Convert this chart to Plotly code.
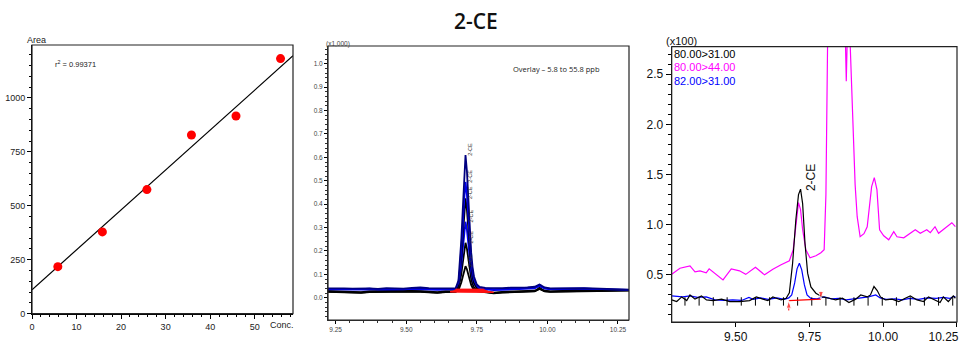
import plotly.graph_objects as go

W, H = 968, 343


def fx(p):
    return p / W


def fy(p):
    return 1 - p / H


# ---------------- Panel 1: calibration ----------------
conc = [5.8, 15.8, 25.8, 35.8, 45.8, 55.8]
area = [218, 379, 575, 828, 916, 1182]
fit_intercept = 111.0
fit_slope = 18.5
r2_text = "r<sup>2</sup> = 0.99371"
p1_xticks = [0, 10, 20, 30, 40, 50]
p1_yticks = [0, 250, 500, 750, 1000]

# ---------------- Panel 2: overlay ----------------
t2 = [9.222, 9.25, 9.28, 9.31, 9.34, 9.37, 9.40, 9.43, 9.46, 9.49, 9.52, 9.55, 9.58, 9.61, 9.64, 9.665,
      9.675, 9.685, 9.69, 9.695, 9.70, 9.705, 9.71, 9.715, 9.72, 9.725, 9.73, 9.735, 9.74, 9.75, 9.76,
      9.78, 9.81, 9.84, 9.87, 9.90, 9.93, 9.955, 9.965, 9.972, 9.98, 9.99, 10.01, 10.04, 10.07, 10.10,
      10.13, 10.16, 10.19, 10.22, 10.25, 10.289]
ov_1 = [0.040, 0.041, 0.040, 0.039, 0.041, 0.040, 0.038, 0.041, 0.040, 0.039, 0.042, 0.044, 0.041, 0.040, 0.039, 0.040,
        0.040, 0.074, 0.143, 0.245, 0.371, 0.507, 0.610, 0.542, 0.405, 0.291, 0.194, 0.131, 0.091, 0.057, 0.046,
        0.042, 0.040, 0.041, 0.043, 0.042, 0.044, 0.047, 0.053, 0.057, 0.051, 0.044, 0.040, 0.041, 0.039, 0.040,
        0.041, 0.040, 0.039, 0.038, 0.037, 0.035]
ov_2 = [0.037, 0.038, 0.036, 0.038, 0.037, 0.039, 0.036, 0.038, 0.037, 0.036, 0.038, 0.040, 0.037, 0.036, 0.038, 0.037,
        0.038, 0.065, 0.120, 0.203, 0.303, 0.413, 0.495, 0.440, 0.330, 0.239, 0.161, 0.111, 0.079, 0.052, 0.043,
        0.040, 0.037, 0.038, 0.040, 0.039, 0.041, 0.044, 0.050, 0.055, 0.049, 0.042, 0.038, 0.039, 0.037, 0.038,
        0.040, 0.038, 0.037, 0.036, 0.035, 0.034]
ov_3 = [0.028, 0.027, 0.028, 0.026, 0.024, 0.027, 0.028, 0.029, 0.027, 0.028, 0.029, 0.028, 0.026, 0.024, 0.027, 0.028,
        0.028, 0.052, 0.099, 0.171, 0.258, 0.354, 0.425, 0.377, 0.282, 0.203, 0.135, 0.092, 0.064, 0.040, 0.032,
        0.027, 0.022, 0.025, 0.027, 0.026, 0.028, 0.030, 0.036, 0.042, 0.036, 0.030, 0.027, 0.029, 0.030, 0.031,
        0.030, 0.031, 0.032, 0.031, 0.033, 0.033]
ov_4 = [0.034, 0.035, 0.034, 0.036, 0.035, 0.034, 0.036, 0.035, 0.033, 0.035, 0.036, 0.037, 0.035, 0.034, 0.035, 0.035,
        0.035, 0.052, 0.087, 0.139, 0.203, 0.273, 0.325, 0.290, 0.221, 0.163, 0.113, 0.081, 0.061, 0.044, 0.038,
        0.036, 0.033, 0.034, 0.036, 0.035, 0.037, 0.040, 0.046, 0.050, 0.045, 0.039, 0.036, 0.035, 0.034, 0.035,
        0.036, 0.035, 0.034, 0.034, 0.033, 0.033]
ov_5 = [0.026, 0.025, 0.026, 0.024, 0.022, 0.025, 0.026, 0.027, 0.025, 0.026, 0.027, 0.026, 0.024, 0.022, 0.025, 0.026,
        0.026, 0.039, 0.064, 0.101, 0.147, 0.197, 0.235, 0.210, 0.160, 0.118, 0.082, 0.059, 0.045, 0.032, 0.028,
        0.025, 0.020, 0.023, 0.025, 0.024, 0.026, 0.028, 0.034, 0.040, 0.034, 0.028, 0.026, 0.027, 0.028, 0.029,
        0.029, 0.030, 0.030, 0.030, 0.032, 0.032]
ov_6 = [0.025, 0.024, 0.025, 0.023, 0.021, 0.024, 0.025, 0.026, 0.024, 0.025, 0.026, 0.025, 0.023, 0.021, 0.024, 0.025,
        0.025, 0.032, 0.045, 0.065, 0.089, 0.115, 0.135, 0.122, 0.095, 0.073, 0.055, 0.043, 0.035, 0.028, 0.026,
        0.024, 0.019, 0.022, 0.024, 0.023, 0.025, 0.027, 0.033, 0.038, 0.033, 0.027, 0.025, 0.026, 0.027, 0.028,
        0.028, 0.029, 0.029, 0.029, 0.031, 0.031]
ov_series = [ov_6, ov_5, ov_4, ov_3, ov_2, ov_1]
ov_colors = ["#000000", "#000000", "#0000ee", "#000000", "#0000ee", "#000080"]
ov_label_t = 9.728
# red integration baselines (start time, start level, end time, end level)
int_t0 = [9.655, 9.660, 9.665, 9.670, 9.672, 9.675]
int_y0 = [0.026, 0.027, 0.028, 0.030, 0.033, 0.036]
int_t1 = [9.810, 9.800, 9.790, 9.785, 9.780, 9.775]
int_y1 = [0.024, 0.026, 0.028, 0.030, 0.033, 0.036]
p2_xticks = [9.25, 9.50, 9.75, 10.00, 10.25]
p2_yticks = [0.0, 0.1, 0.2, 0.3, 0.4, 0.5, 0.6, 0.7, 0.8, 0.9, 1.0]

# ---------------- Panel 3: MRM channels ----------------
t3_k = [9.283, 9.300, 9.317, 9.334, 9.345, 9.362, 9.384, 9.401, 9.424, 9.452, 9.480, 9.513, 9.547, 9.570, 9.592,
        9.609, 9.626, 9.654, 9.671, 9.682, 9.693, 9.704, 9.713, 9.720, 9.727, 9.735, 9.744, 9.755, 9.772, 9.794,
        9.817, 9.839, 9.862, 9.884, 9.907, 9.924, 9.946, 9.957, 9.969, 9.980, 9.991, 10.008, 10.030, 10.053,
        10.075, 10.092, 10.115, 10.137, 10.154, 10.171, 10.193, 10.204, 10.221, 10.238, 10.245]
y3_k = [0.25, 0.234, 0.28, 0.244, 0.30, 0.258, 0.29, 0.25, 0.244, 0.258, 0.234, 0.234, 0.244, 0.28, 0.258,
        0.244, 0.28, 0.25, 0.267, 0.32, 0.616, 1.05, 1.30, 1.354, 1.21, 0.815, 0.517, 0.38, 0.317, 0.28,
        0.267, 0.25, 0.267, 0.224, 0.258, 0.30, 0.28, 0.30, 0.384, 0.344, 0.28, 0.25, 0.258, 0.234,
        0.267, 0.29, 0.25, 0.234, 0.28, 0.258, 0.224, 0.28, 0.234, 0.29, 0.267]
t3_b = [9.283, 9.30, 9.32, 9.345, 9.37, 9.40, 9.43, 9.46, 9.49, 9.52, 9.545, 9.56, 9.585, 9.61, 9.64, 9.665,
        9.68, 9.69, 9.70, 9.708, 9.716, 9.724, 9.733, 9.742, 9.755, 9.775, 9.80, 9.825, 9.85, 9.875, 9.90,
        9.925, 9.95, 9.975, 9.99, 10.01, 10.04, 10.065, 10.09, 10.12, 10.15, 10.18, 10.205, 10.225, 10.24, 10.245]
y3_b = [0.29, 0.285, 0.28, 0.29, 0.275, 0.28, 0.25, 0.245, 0.25, 0.245, 0.275, 0.255, 0.27, 0.255, 0.27, 0.255,
        0.27, 0.30, 0.42, 0.56, 0.616, 0.55, 0.40, 0.30, 0.265, 0.26, 0.28, 0.26, 0.265, 0.25, 0.26,
        0.27, 0.28, 0.30, 0.27, 0.255, 0.26, 0.25, 0.265, 0.255, 0.27, 0.265, 0.275, 0.265, 0.285, 0.28]
t3_m = [9.283, 9.311, 9.345, 9.362, 9.379, 9.400, 9.410, 9.435, 9.457, 9.485, 9.513, 9.534, 9.567, 9.598, 9.626,
        9.654, 9.682, 9.695, 9.705, 9.713, 9.720, 9.727, 9.738, 9.752, 9.772, 9.789, 9.800, 9.806, 9.812, 9.830,
        9.860, 9.869, 9.875, 9.881, 9.884, 9.887, 9.899, 9.905, 9.912, 9.922, 9.935, 9.946, 9.961, 9.970, 9.979,
        9.988, 10.002, 10.019, 10.036, 10.047, 10.070, 10.109, 10.126, 10.148, 10.160, 10.176, 10.188, 10.210,
        10.233, 10.245]
y3_m = [0.507, 0.566, 0.59, 0.53, 0.54, 0.52, 0.56, 0.50, 0.45, 0.56, 0.54, 0.505, 0.576, 0.50, 0.556,
        0.60, 0.64, 0.75, 1.05, 1.22, 1.15, 0.95, 0.75, 0.67, 0.69, 0.72, 0.75, 1.30, 2.90, 4.50,
        4.50, 3.20, 2.43, 3.20, 3.40, 2.90, 1.95, 1.40, 1.08, 0.88, 0.91, 0.98, 1.38, 1.47, 1.35,
        0.95, 0.89, 0.85, 0.93, 0.88, 0.87, 0.95, 0.915, 0.95, 0.92, 0.98, 0.915, 0.965,
        1.02, 0.98]
scan_marks = [9.328, 9.376, 9.424, 9.471, 9.519, 9.567, 9.615, 9.662, 9.710, 9.758, 9.806, 9.854, 9.901,
              9.949, 9.997, 10.045, 10.092, 10.140, 10.188, 10.236]
scan_mark_level = 0.235
p3_int_t = [9.680, 9.789]
p3_int_y = [0.244, 0.258]
p3_arrow_tail = [0.145, 0.335]
channel_names = ["80.00>31.00", "80.00>44.00", "82.00>31.00"]
channel_colors = ["#000000", "#ff00ff", "#0000ff"]
p3_xticks = [9.50, 9.75, 10.00, 10.25]
p3_xticktext = ["9.50", "9.75", "10.00", "10.25\u2007\u2007\u2007\u2007"]
p3_yticks = [0.5, 1.0, 1.5, 2.0, 2.5]

ARIAL = "Liberation Sans, Arial, sans-serif"

# plot-area rectangles (pixels: left, right, top, bottom)
P1 = (32, 293, 45, 313.7)
P2 = (328, 629, 46, 320)
P3 = (671.7, 957, 46.7, 322)

fig = go.Figure()

# Panel 1 traces
x_fit = [0, 58.6]
fig.add_trace(go.Scatter(x=x_fit, y=[fit_intercept + fit_slope * v for v in x_fit], mode="lines",
                         line=dict(color="black", width=1.2), xaxis="x", yaxis="y", showlegend=False))
fig.add_trace(go.Scatter(x=conc, y=area, mode="markers", marker=dict(color="#ff0000", size=9),
                         xaxis="x", yaxis="y", showlegend=False, cliponaxis=False))

# Panel 2 traces
for ys, col in zip(ov_series, ov_colors):
    fig.add_trace(go.Scatter(x=t2, y=ys, mode="lines", line=dict(color=col, width=1.8),
                             xaxis="x2", yaxis="y2", showlegend=False))
rx, ry = [], []
for a, b, c, d in zip(int_t0, int_y0, int_t1, int_y1):
    rx += [a, c, None]
    ry += [b, d, None]
fig.add_trace(go.Scatter(x=rx, y=ry, mode="lines", line=dict(color="#ff1010", width=1.5),
                         xaxis="x2", yaxis="y2", showlegend=False))

# Panel 3 traces
fig.add_trace(go.Scatter(x=t3_m, y=y3_m, mode="lines", line=dict(color=channel_colors[1], width=1.2),
                         xaxis="x3", yaxis="y3", showlegend=False))
fig.add_trace(go.Scatter(x=t3_b, y=y3_b, mode="lines", line=dict(color=channel_colors[2], width=1.2),
                         xaxis="x3", yaxis="y3", showlegend=False))
fig.add_trace(go.Scatter(x=t3_k, y=y3_k, mode="lines", line=dict(color=channel_colors[0], width=1.2),
                         xaxis="x3", yaxis="y3", showlegend=False))
fig.add_trace(go.Scatter(x=scan_marks, y=[scan_mark_level] * len(scan_marks), mode="markers",
                         marker=dict(symbol="line-ns", size=6, line=dict(color="black", width=1)),
                         xaxis="x3", yaxis="y3", showlegend=False))
fig.add_trace(go.Scatter(x=p3_int_t, y=p3_int_y, mode="lines", line=dict(color="#ff0000", width=1.2),
                         xaxis="x3", yaxis="y3", showlegend=False))
for t, yh, yt in zip(p3_int_t, p3_int_y, p3_arrow_tail):
    fig.add_trace(go.Scatter(x=[t, t], y=[yt, yh], mode="lines+markers",
                             line=dict(color="#ff0000", width=1),
                             marker=dict(symbol="arrow", angleref="previous", size=[0, 8],
                                         color="#ff0000"),
                             xaxis="x3", yaxis="y3", showlegend=False, cliponaxis=False))

# frame boxes drawn on a hidden full-figure pixel subplot
fxs, fys = [], []
for (l, r, t, b) in (P1, P2, P3):
    fxs += [l, r, r, l, l, None]
    fys += [b, b, t, t, b, None]
fig.add_trace(go.Scatter(x=fxs, y=fys, mode="lines", line=dict(color="#222222", width=1.2),
                         xaxis="x4", yaxis="y4", showlegend=False, hoverinfo="skip"))

axis_common = dict(showgrid=False, zeroline=False, showline=True, linecolor="black", linewidth=1,
                   mirror=False, ticks="outside", tickcolor="black", tickwidth=1, automargin=False)

fig.update_layout(
    template="none",
    width=W, height=H, margin=dict(l=0, r=0, t=0, b=0, autoexpand=False),
    paper_bgcolor="white", plot_bgcolor="rgba(0,0,0,0)", showlegend=False,
    xaxis=dict(axis_common, domain=[fx(P1[0]), fx(P1[1])], range=[0, 58.6], tickvals=p1_xticks, ticklen=4,
               minor=dict(dtick=2, tick0=0, ticks="outside", ticklen=2, tickcolor="black"),
               tickfont=dict(family=ARIAL, size=9, color="#222"), anchor="y"),
    yaxis=dict(axis_common, domain=[fy(P1[3]), fy(P1[2])], range=[0, 1245], tickvals=p1_yticks, ticklen=4,
               minor=dict(dtick=50, tick0=0, ticks="outside", ticklen=2, tickcolor="black"),
               tickfont=dict(family=ARIAL, size=9, color="#222"), anchor="x"),
    xaxis2=dict(axis_common, domain=[fx(P2[0]), fx(P2[1])], range=[9.223, 10.289], tickvals=p2_xticks,
                ticktext=["%.2f" % v for v in p2_xticks], ticklen=3, linecolor="#333",
                minor=dict(dtick=0.05, tick0=9.0, ticks="outside", ticklen=2, tickcolor="#333"),
                tickfont=dict(family=ARIAL, size=6.5, color="#444"), anchor="y2"),
    yaxis2=dict(axis_common, domain=[fy(P2[3]), fy(P2[2])], range=[-0.095, 1.076], tickvals=p2_yticks,
                ticktext=["%.1f" % v for v in p2_yticks], ticklen=3, linecolor="#333",
                minor=dict(dtick=0.02, tick0=0, ticks="outside", ticklen=2, tickcolor="#333"),
                tickfont=dict(family=ARIAL, size=6.5, color="#444"), anchor="x2"),
    xaxis3=dict(axis_common, domain=[fx(P3[0]), fx(P3[1])], range=[9.283, 10.2505], tickvals=p3_xticks,
                ticktext=p3_xticktext, ticklen=4, linecolor="#222", ticklabeloverflow="allow",
                tickfont=dict(family=ARIAL, size=12, color="#111"), anchor="y3"),
    yaxis3=dict(axis_common, domain=[fy(P3[3]), fy(P3[2])], range=[0.03, 2.775], tickvals=p3_yticks,
                ticktext=["%.1f" % v for v in p3_yticks], ticklen=5, linecolor="#222",
                minor=dict(dtick=0.1, tick0=0, ticks="outside", ticklen=3, tickcolor="black"),
                tickfont=dict(family=ARIAL, size=12, color="#111"), anchor="x3"),
    xaxis4=dict(domain=[0, 1], range=[0, W], visible=False, anchor="y4", automargin=False, fixedrange=True),
    yaxis4=dict(domain=[0, 1], range=[H, 0], visible=False, anchor="x4", automargin=False, fixedrange=True),
)

ann = []
ann.append(dict(text="2-CE", x=fx(476), y=fy(20.5), xref="paper", yref="paper", showarrow=False,
                xanchor="center", yanchor="middle",
                font=dict(family="Open Sans", size=21, color="#111", weight=600)))
ann.append(dict(text="Area", x=fx(36.5), y=fy(39.5), xref="paper", yref="paper", showarrow=False,
                xanchor="center", yanchor="middle", font=dict(family=ARIAL, size=9, color="#222")))
ann.append(dict(text="Conc.", x=fx(281.5), y=fy(325), xref="paper", yref="paper", showarrow=False,
                xanchor="center", yanchor="middle", font=dict(family=ARIAL, size=9, color="#222")))
ann.append(dict(text=r2_text, x=fx(53), y=fy(64), xref="paper", yref="paper", showarrow=False,
                xanchor="left", yanchor="middle", font=dict(family=ARIAL, size=7.5, color="#222")))
ann.append(dict(text="(x1,000)", x=fx(337.5), y=fy(44.5), xref="paper", yref="paper", showarrow=False,
                xanchor="center", yanchor="middle", font=dict(family=ARIAL, size=6.5, color="#444")))
ann.append(dict(text="Overlay \u2013 5.8 to 55.8 ppb", x=fx(511), y=fy(69), xref="paper", yref="paper",
                showarrow=False, xanchor="left", yanchor="middle",
                font=dict(family="Open Sans", size=7.5, color="#222")))
for ys in ov_series:
    ann.append(dict(text="2-CE", x=ov_label_t, y=max(ys) + 0.025, xref="x2", yref="y2", showarrow=False,
                    textangle=-90, xanchor="center", yanchor="middle",
                    font=dict(family=ARIAL, size=5.5, color="#333")))
ann.append(dict(text="(x100)", x=fx(681), y=fy(41), xref="paper", yref="paper", showarrow=False,
                xanchor="center", yanchor="middle", font=dict(family=ARIAL, size=11, color="#111")))
for i, (nm, col) in enumerate(zip(channel_names, channel_colors)):
    ann.append(dict(text=nm, x=fx(672), y=fy(54 + 13.4 * i), xref="paper", yref="paper", showarrow=False,
                    xanchor="left", yanchor="middle", font=dict(family=ARIAL, size=11, color=col)))
ann.append(dict(text="2-CE", x=9.755, y=max(y3_k) + 0.12, xref="x3", yref="y3", showarrow=False,
                textangle=-90, xanchor="center", yanchor="middle",
                font=dict(family=ARIAL, size=12, color="#111")))
fig.update_layout(annotations=ann)

fig.write_html("out.html", config={"displayModeBar": False},
               post_script="document.body.style.margin='0';document.body.style.overflow='hidden';")
